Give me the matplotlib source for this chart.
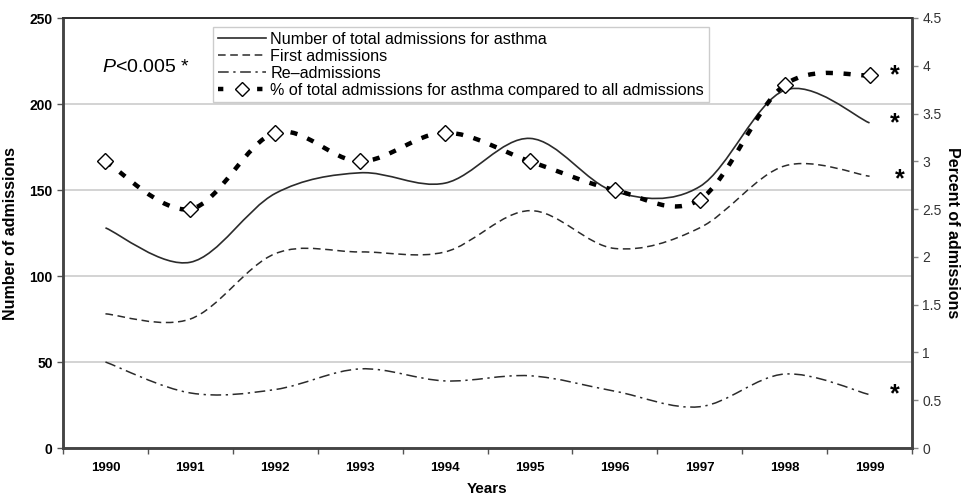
import numpy as np
import matplotlib.pyplot as plt
from matplotlib.path import Path
from matplotlib.patches import PathPatch
from matplotlib.lines import Line2D

plt.rcParams['font.family'] = ['Liberation Sans', 'DejaVu Sans']
plt.rcParams['mathtext.fontset'] = 'custom'
plt.rcParams['mathtext.it'] = 'Liberation Sans:italic'
plt.rcParams['mathtext.rm'] = 'Liberation Sans'

years = ['1990', '1991', '1992', '1993', '1994', '1995', '1996', '1997', '1998', '1999']
total_adm = [128, 108, 148, 160, 154, 180, 149, 152, 208, 189]
first_adm = [78, 75, 113, 114, 114, 138, 116, 128, 164, 158]
re_adm = [50, 32, 34, 46, 39, 42, 33, 24, 43, 31]
pct_adm = [3.0, 2.5, 3.3, 3.0, 3.3, 3.0, 2.7, 2.6, 3.8, 3.9]


def smooth_path(x, y):
    # Bezier path through the points, Excel-style smoothed line
    p = np.column_stack([x, y]).astype(float)
    pp = np.vstack([p[0], p, p[-1]])
    verts = [p[0]]
    codes = [Path.MOVETO]
    for i in range(len(p) - 1):
        c1 = pp[i + 1] + (pp[i + 2] - pp[i]) / 6
        c2 = pp[i + 2] - (pp[i + 3] - pp[i + 1]) / 6
        verts += [c1, c2, pp[i + 2]]
        codes += [Path.CURVE4] * 3
    return Path(verts, codes)


x = np.arange(len(years))
line_col = '#2b2b2b'

fig = plt.figure(figsize=(9.63, 4.98), dpi=100)
ax = fig.add_axes([63 / 963, 50 / 498, 849 / 963, 430 / 498])
ax2 = ax.twinx()

styles = [
    (total_adm, '-', 1.2),
    (first_adm, (0, (5, 3)), 1.1),
    (re_adm, (0, (7, 3, 1.5, 3)), 1.1),
]
for vals, ls, lw in styles:
    ax.add_patch(PathPatch(smooth_path(x, vals), fill=False, edgecolor=line_col,
                           linestyle=ls, linewidth=lw, capstyle='butt'))

ax2.add_patch(PathPatch(smooth_path(x, pct_adm), fill=False, edgecolor='black',
                        linestyle=(0, (1.6, 2.4)), linewidth=3.2, capstyle='butt'))
ax2.plot(x, pct_adm, linestyle='none', marker='D', markersize=8.5,
         markerfacecolor='white', markeredgecolor='black', markeredgewidth=1.0, zorder=5)

ax.set_xlim(-0.5, 9.5)
ax.set_ylim(0, 250)
ax2.set_ylim(0, 4.5)
ax.set_yticks([0, 50, 100, 150, 200, 250])
ax2.set_yticks([0, 0.5, 1, 1.5, 2, 2.5, 3, 3.5, 4, 4.5])
ax2.set_yticklabels(['0', '0.5', '1', '1.5', '2', '2.5', '3', '3.5', '4', '4.5'])
ax.set_xticks(x)
ax.set_xticklabels(years)
ax.set_xticks(np.arange(-0.5, 10, 1), minor=True)

ax.grid(axis='y', color='#c8c8c8', linewidth=1.1)
ax.set_axisbelow(True)

ax.tick_params(axis='x', which='major', length=0, pad=10, labelsize=9.5)
ax.tick_params(axis='x', which='minor', length=4, width=1, color='#555555')
ax.tick_params(axis='y', length=4, width=1, color='#555555', labelsize=10)
ax2.tick_params(axis='y', length=4, width=1, color='#888888', labelsize=10,
                labelcolor='#333333')
for lab in ax.get_xticklabels() + ax.get_yticklabels():
    lab.set_fontweight('bold')

for a in (ax, ax2):
    for side in ('left', 'right', 'bottom'):
        a.spines[side].set_linewidth(1.8)
        a.spines[side].set_color('#444444')
    a.spines['top'].set_linewidth(1.4)
    a.spines['top'].set_color('#333333')

ax.set_ylabel('Number of admissions', fontsize=11.5, fontweight='bold', labelpad=8)
ax2.set_ylabel('Percent of admissions', fontsize=11.5, fontweight='bold',
               rotation=270, labelpad=13)
ax.set_xlabel('Years', fontsize=11, fontweight='bold', labelpad=6)

ax.text(0.046, 0.885, r'$\it{P}$<0.005 *', transform=ax.transAxes,
        fontsize=14, va='center')

# significance markers next to the 1999 values
ax2.annotate('*', (x[-1], pct_adm[-1]), xytext=(15, 0), textcoords='offset points',
             fontsize=18, fontweight='bold', va='center')
for vals, dy in ((total_adm, 0), (first_adm, -2), (re_adm, 0)):
    ax.annotate('*', (x[-1], vals[-1]), xytext=(15 + (3 if dy else 0), dy),
                textcoords='offset points', fontsize=18, fontweight='bold', va='center')

handles = [
    Line2D([], [], color=line_col, linestyle='-', linewidth=1.2),
    Line2D([], [], color=line_col, linestyle=(0, (5, 3)), linewidth=1.1),
    Line2D([], [], color=line_col, linestyle=(0, (7, 3, 1.5, 3)), linewidth=1.1),
    Line2D([], [], color='black', linestyle=(0, (1.2, 3.2)), linewidth=3.2,
           marker='D', markersize=7, markerfacecolor='white', markeredgecolor='black'),
]
labels = ['Number of total admissions for asthma', 'First admissions',
          'Re\u2013admissions',
          '% of total admissions for asthma compared to all admissions']
leg = ax2.legend(handles, labels, loc='upper left', bbox_to_anchor=(0.177, 0.979),
                 fontsize=11.6, frameon=True, fancybox=False, borderpad=0.3,
                 labelspacing=0.12, handlelength=3.0, handletextpad=0.25,
                 borderaxespad=0)
leg.get_frame().set_edgecolor('#c0c0c0')
leg.get_frame().set_linewidth(1.0)

fig.savefig('out.png', dpi=100)
